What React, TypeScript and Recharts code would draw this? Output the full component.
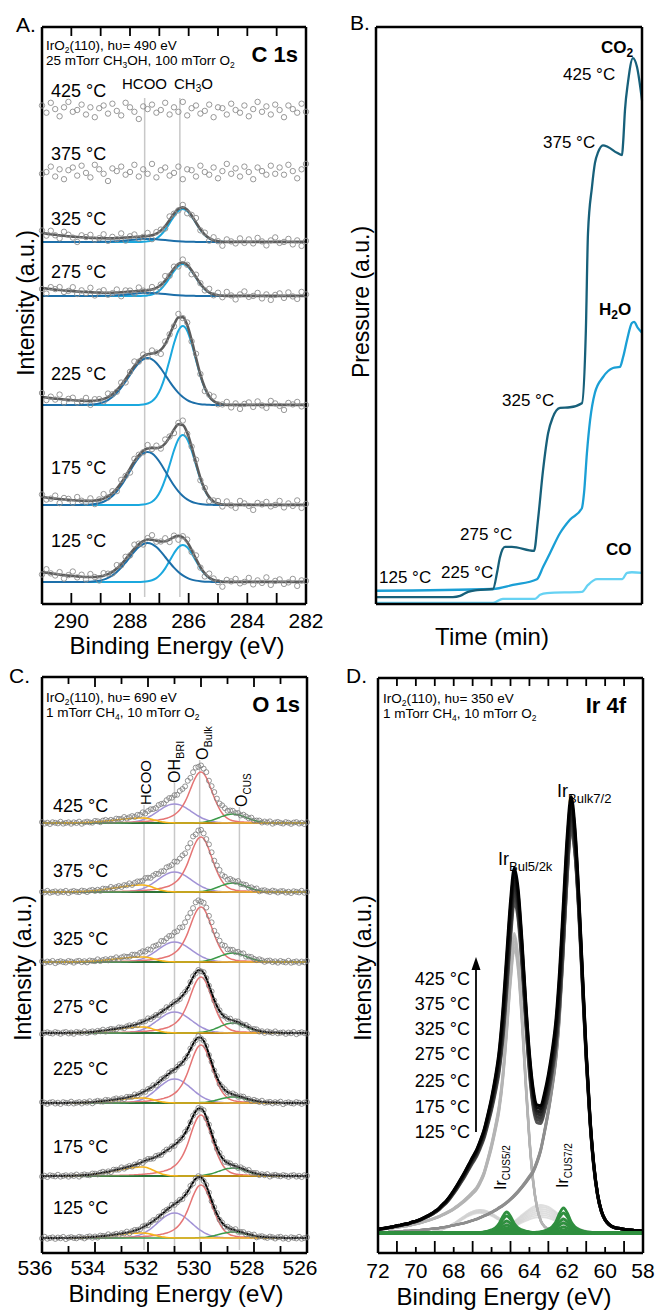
import React from 'react';
import { LineChart, Line, XAxis, YAxis, ReferenceLine } from 'recharts';

const FONT = '"Liberation Sans", Arial, Helvetica, sans-serif';
const AXIS = { stroke: '#000', strokeWidth: 2.5 };

// ---------- A. C 1s ----------
const A_ENERGY = [
  291, 290.85, 290.7, 290.55, 290.4, 290.25, 290.1, 289.95, 289.8, 289.65,
  289.5, 289.35, 289.2, 289.05, 288.9, 288.75, 288.6, 288.45, 288.3, 288.15,
  288, 287.85, 287.7, 287.55, 287.4, 287.25, 287.1, 286.95, 286.8, 286.65,
  286.5, 286.35, 286.2, 286.05, 285.9, 285.75, 285.6, 285.45, 285.3, 285.15,
  285, 284.85, 284.7, 284.55, 284.4, 284.25, 284.1, 283.95, 283.8, 283.65,
  283.5, 283.35, 283.2, 283.05, 282.9, 282.75, 282.6, 282.45, 282.3, 282.15, 282,
];
const A_TEMPS = ['425 °C', '375 °C', '325 °C', '275 °C', '225 °C', '175 °C', '125 °C'];
const A_OFFSET = [494, 432, 362, 308, 199, 99, 22];
const A_HCOO_AMP = [0, 0, 3, 3, 47, 53, 39];
const A_CH3O_AMP = [0, 0, 33, 32, 79, 70, 37];
const A_BG_AMP = [0, 0, 9, 8, 8, 8, 10];
const A_NOISE_AMP = [9, 9, 5, 5, 5, 5, 5];
const A_FITTED = [false, false, true, true, true, true, true];
const A_HCOO_CENTER = 287.4;
const A_CH3O_CENTER = 286.2;
const A_HCOO_PROFILE = [1, 0.973, 0.895, 0.779, 0.641, 0.5, 0.368, 0.257, 0.169, 0.106, 0.062, 0.035, 0.018, 0.009, 0.004, 0.002];
const A_CH3O_PROFILE = [1, 0.94, 0.779, 0.571, 0.369, 0.211, 0.106, 0.047, 0.019, 0.006];
const A_BG_PROFILE = [
  1.0, 0.93, 0.86, 0.8, 0.74, 0.69, 0.64, 0.6, 0.56, 0.52,
  0.49, 0.46, 0.43, 0.41, 0.39, 0.37, 0.35, 0.34, 0.33, 0.32,
  0.31, 0.3, 0.29, 0.28, 0.27, 0.26, 0.25, 0.23, 0.21, 0.19,
  0.17, 0.15, 0.12, 0.1, 0.08, 0.06, 0.05, 0.04, 0.03, 0.02,
  0.02, 0.01, 0.01, 0.01, 0.01, 0.01, 0.01, 0.01, 0.01, 0.01,
  0.01, 0.01, 0.01, 0.01, 0.01, 0.01, 0.01, 0.01, 0.01, 0.01, 0.01,
];
const A_NOISE = [
  0.5, -0.3, 0.8, 0.1, -0.7, 0.3, 0.9, -0.2, 0.0, 0.6,
  -0.5, 0.3, -0.8, 0.2, 0.5, -0.4, 0.7, -0.1, -0.6, 0.8,
  0.3, -0.2, -1.0, 0.4, 0.1, 0.6, -0.3, 0.0, 0.8, -0.5,
  0.3, -0.2, 0.9, -0.6, 0.2, 0.5, -0.4, -0.1, 0.6, -0.8,
  0.3, 0.2, -0.5, 0.7, 0.0, -0.3, 0.5, -0.7, 0.1, 0.9,
  -0.2, 0.4, -0.5, 0.6, 0.0, -0.8, 0.5, 0.1, -0.3, 0.7, -0.2,
];
const A_MARKERS = [287.5, 286.3];
const A_TICKS = [282, 283, 284, 285, 286, 287, 288, 289, 290];
const A_LABELS = [282, 284, 286, 288, 290];

// ---------- B. gas phase ----------
const CO2_TIME = [0, 28.9, 31.6, 34.6, 38.0, 44.0, 45.5, 46.6, 48.5, 51.1, 59.4, 60.9, 62.8, 64.7, 66.5, 69.2, 72.9, 77.4, 78.9, 79.7, 81.2, 82.3, 83.5, 85.3, 87.2, 90.6, 92.5, 92.9, 93.6, 94.7, 96.6, 98.1, 100];
const CO2_P = [1.2, 1.2, 1.4, 2.1, 2.4, 2.6, 5.4, 8.1, 9.9, 9.9, 9.2, 14.6, 23.2, 29.6, 32.4, 34.0, 34.1, 34.8, 47.5, 64.3, 72.3, 76.4, 78.3, 79.5, 79.2, 78.2, 77.8, 79.9, 85.6, 90.3, 94.6, 93.1, 87.3];
const H2O_TIME = [0, 44.0, 51.5, 60.5, 62.8, 65.4, 69.2, 72.9, 77.4, 78.2, 79.3, 80.5, 82.3, 85.3, 89.1, 91.7, 92.9, 94.4, 96.2, 97.0, 98.5, 100];
const H2O_P = [2.3, 2.6, 3.3, 4.3, 6.4, 8.8, 12.3, 14.6, 16.6, 19.2, 26.2, 31.9, 36.6, 39.3, 40.9, 41.1, 42.8, 45.8, 48.7, 48.9, 47.8, 47.0];
const CO_TIME = [0, 44.0, 47.7, 59.8, 61.7, 64.3, 77.4, 79.7, 83.1, 92.5, 94.4, 96.2, 100];
const CO_P = [0.2, 0.2, 0.9, 0.9, 1.6, 1.9, 2.1, 3.3, 4.3, 4.3, 5.4, 5.5, 5.4];

// ---------- C. O 1s ----------
const C_ENERGY = [
  536, 535.9, 535.8, 535.7, 535.6, 535.5, 535.4, 535.3, 535.2, 535.1,
  535, 534.9, 534.8, 534.7, 534.6, 534.5, 534.4, 534.3, 534.2, 534.1,
  534, 533.9, 533.8, 533.7, 533.6, 533.5, 533.4, 533.3, 533.2, 533.1,
  533, 532.9, 532.8, 532.7, 532.6, 532.5, 532.4, 532.3, 532.2, 532.1,
  532, 531.9, 531.8, 531.7, 531.6, 531.5, 531.4, 531.3, 531.2, 531.1,
  531, 530.9, 530.8, 530.7, 530.6, 530.5, 530.4, 530.3, 530.2, 530.1,
  530, 529.9, 529.8, 529.7, 529.6, 529.5, 529.4, 529.3, 529.2, 529.1,
  529, 528.9, 528.8, 528.7, 528.6, 528.5, 528.4, 528.3, 528.2, 528.1,
  528, 527.9, 527.8, 527.7, 527.6, 527.5, 527.4, 527.3, 527.2, 527.1,
  527, 526.9, 526.8, 526.7, 526.6, 526.5, 526.4, 526.3, 526.2, 526.1,
  526,
];
const C_TEMPS = ['425 °C', '375 °C', '325 °C', '275 °C', '225 °C', '175 °C', '125 °C'];
const C_OFFSET = [430, 361, 291, 220, 150, 77, 15];
const C_BULK_AMP = [51, 55, 55, 56, 58, 61, 53];
const C_OH_AMP = [19, 20, 20, 21, 24, 21, 25];
const C_CUS_AMP = [9, 9, 9, 10, 6, 8, 6];
const C_HCOO_AMP = [5, 7, 5, 6, 5, 9, 5];
const C_FITTED = [false, false, false, true, true, true, true];
const C_SHOW_OH = [true, true, true, true, true, false, true];
const C_BULK_CENTER = 530;
const C_OH_CENTER = 531;
const C_CUS_CENTER = 528.8;
const C_HCOO_CENTER = 532.2;
const C_BULK_LEFT = [1, 0.975, 0.9, 0.79, 0.66, 0.53, 0.42, 0.33, 0.26, 0.205, 0.165, 0.135, 0.11, 0.095, 0.08, 0.07, 0.06, 0.052, 0.045, 0.04, 0.035, 0.031, 0.027, 0.024, 0.021, 0.019, 0.017, 0.015, 0.013, 0.012, 0.011, 0.01, 0.009, 0.008, 0.007, 0.006, 0.005, 0.005, 0.004, 0.004, 0.003];
const C_BULK_RIGHT = [1, 0.971, 0.888, 0.77, 0.636, 0.5, 0.377, 0.274, 0.192, 0.132, 0.09, 0.062, 0.045, 0.033, 0.026, 0.02, 0.018, 0.016, 0.014, 0.013, 0.012, 0.011, 0.01, 0.009, 0.009, 0.008, 0.007, 0.007, 0.006, 0.006, 0.005];
const C_OH_PROFILE = [1, 0.988, 0.952, 0.895, 0.821, 0.735, 0.641, 0.547, 0.454, 0.368, 0.291, 0.225, 0.169, 0.124, 0.089, 0.062, 0.043, 0.028, 0.018, 0.012, 0.007, 0.004, 0.003, 0.001];
const C_CUS_PROFILE = [1, 0.981, 0.926, 0.841, 0.735, 0.618, 0.5, 0.39, 0.292, 0.211, 0.146, 0.098, 0.063, 0.039, 0.023, 0.013, 0.007, 0.004, 0.002];
const C_HCOO_LEFT = [1, 0.995, 0.981, 0.958, 0.926, 0.887, 0.841, 0.79, 0.735, 0.677, 0.618, 0.559, 0.5, 0.443, 0.39, 0.339, 0.292, 0.249, 0.211, 0.176, 0.146, 0.12, 0.098, 0.079, 0.063, 0.05, 0.039, 0.03, 0.023, 0.017, 0.013, 0.01, 0.007, 0.005, 0.003];
const C_HCOO_RIGHT = [1, 0.973, 0.895, 0.779, 0.642, 0.5, 0.369, 0.257, 0.17, 0.106, 0.063, 0.035, 0.018, 0.009, 0.004];
const C_NOISE = [0.6, -0.4, 0.2, -0.7, 0.5, 0.1, -0.3, 0.8, -0.5, 0.0, 0.4, -0.6, 0.3, -0.2, 0.7, -0.8, 0.1, 0.5, -0.1, -0.4, 0.6, 0.2, -0.6, 0.3];
const C_MARKERS = [532.15, 531.0, 530.05, 528.55];
const C_MARKER_TOPS = [448, 470, 493, 446];
const C_TICKS = [526, 527, 528, 529, 530, 531, 532, 533, 534, 535, 536];
const C_LABELS = [526, 528, 530, 532, 534, 536];

// ---------- D. Ir 4f ----------
const D_ENERGY = [
  72, 71.8, 71.6, 71.4, 71.2, 71, 70.8, 70.6, 70.4, 70.2,
  70, 69.8, 69.6, 69.4, 69.2, 69, 68.8, 68.6, 68.4, 68.2,
  68, 67.8, 67.6, 67.4, 67.2, 67, 66.8, 66.6, 66.4, 66.2,
  66, 65.8, 65.6, 65.4, 65.2, 65, 64.8, 64.6, 64.4, 64.2,
  64, 63.8, 63.6, 63.4, 63.2, 63, 62.8, 62.6, 62.4, 62.2,
  62, 61.8, 61.6, 61.4, 61.2, 61, 60.8, 60.6, 60.4, 60.2,
  60, 59.8, 59.6, 59.4, 59.2, 59, 58.8, 58.6, 58.4, 58.2,
  58,
];
const D_TEMPS = ['425 °C', '375 °C', '325 °C', '275 °C', '225 °C', '175 °C', '125 °C'];
const D_BASE = 20;
const D_B72_AMP = [415, 412, 409, 406, 403, 400, 397];
const D_B52_AMP = [300, 297, 294, 291, 288, 285, 282];
const D_SAT1_AMP = [23, 23, 22, 22, 21, 21, 20];
const D_SAT2_AMP = [28, 26, 24, 22, 20, 18, 16];
const D_CUS72_AMP = [25, 20, 14, 10, 6, 3, 1];
const D_CUS52_AMP = [21, 17, 12, 8, 5, 3, 1];
const D_B72_CENTER = 61.8;
const D_B52_CENTER = 64.8;
const D_SAT1_CENTER = 66.6;
const D_SAT2_CENTER = 63.4;
const D_CUS72_CENTER = 62.2;
const D_CUS52_CENTER = 65.2;
const D_BULK_LEFT = [
  1, 0.88, 0.7, 0.54, 0.43, 0.36, 0.3, 0.25, 0.205, 0.175,
  0.152, 0.138, 0.125, 0.113, 0.102, 0.092, 0.083, 0.075, 0.068, 0.062,
  0.056, 0.051, 0.046, 0.042, 0.038, 0.034, 0.031, 0.028, 0.025, 0.023,
  0.021, 0.019, 0.017, 0.015, 0.014, 0.012, 0.011, 0.01, 0.009, 0.008,
  0.007, 0.006, 0.006, 0.005, 0.005, 0.004, 0.004, 0.003, 0.003, 0.002,
  0.002, 0.001,
];
const D_B72_RIGHT = [1, 0.945, 0.801, 0.614, 0.428, 0.275, 0.164, 0.093, 0.053, 0.032, 0.021, 0.015, 0.012, 0.011, 0.009, 0.008, 0.007, 0.006, 0.006, 0.005];
const D_B52_RIGHT = [1, 0.928, 0.745, 0.522, 0.321, 0.176, 0.088, 0.042, 0.022, 0.014, 0.009, 0.007, 0.006, 0.005, 0.005, 0.004, 0.004, 0.003, 0.003, 0.003];
const D_SAT_PROFILE = [1, 0.982, 0.931, 0.852, 0.753, 0.641, 0.527, 0.419, 0.32, 0.237, 0.169, 0.116, 0.077, 0.05, 0.031, 0.018, 0.011, 0.006, 0.003];
const D_CUS_PROFILE = [1, 0.8, 0.45, 0.25, 0.15, 0.09, 0.05, 0.03, 0.015, 0.008];
const D_ENV_COLORS = ['#000000', '#0e0e0e', '#1c1c1c', '#2a2a2a', '#383838', '#464646', '#545454'];
const D_TICKS = [58, 59, 60, 61, 62, 63, 64, 65, 66, 67, 68, 69, 70, 71, 72];
const D_LABELS = [58, 60, 62, 64, 66, 68, 70, 72];

// reads a peak profile table at grid index i, left = higher binding energy side
function profileAt(grid: number[], i: number, center: number, left: number[], right: number[] = left) {
  const k = i - grid.indexOf(center);
  const table = k < 0 ? left : right;
  const j = Math.abs(k);
  return j < table.length ? table[j] : 0;
}

const aRows = A_ENERGY.map((e, i) => {
  const row: Record<string, number> = { e };
  A_OFFSET.forEach((off, s) => {
    const hc = A_HCOO_AMP[s] * profileAt(A_ENERGY, i, A_HCOO_CENTER, A_HCOO_PROFILE);
    const ch = A_CH3O_AMP[s] * profileAt(A_ENERGY, i, A_CH3O_CENTER, A_CH3O_PROFILE);
    const env = hc + ch + A_BG_AMP[s] * A_BG_PROFILE[i];
    row[`sc${s}`] = off + env + A_NOISE[(i + 7 * s) % A_NOISE.length] * A_NOISE_AMP[s];
    row[`hc${s}`] = off + hc;
    row[`ch${s}`] = off + ch;
    row[`env${s}`] = off + env;
  });
  return row;
});

const cRows = C_ENERGY.map((e, i) => {
  const row: Record<string, number> = { e };
  C_OFFSET.forEach((off, s) => {
    const bulk = C_BULK_AMP[s] * profileAt(C_ENERGY, i, C_BULK_CENTER, C_BULK_LEFT, C_BULK_RIGHT);
    const oh = C_OH_AMP[s] * profileAt(C_ENERGY, i, C_OH_CENTER, C_OH_PROFILE);
    const cus = C_CUS_AMP[s] * profileAt(C_ENERGY, i, C_CUS_CENTER, C_CUS_PROFILE);
    const hcoo = C_HCOO_AMP[s] * profileAt(C_ENERGY, i, C_HCOO_CENTER, C_HCOO_LEFT, C_HCOO_RIGHT);
    const env = bulk + oh + cus + hcoo;
    row[`cr${s}`] = off + bulk;
    row[`cp${s}`] = off + oh;
    row[`cg${s}`] = off + cus;
    row[`co${s}`] = off + hcoo;
    row[`ce${s}`] = off + env;
    row[`cs${s}`] = off + env + C_NOISE[(i + 5 * s) % C_NOISE.length] * 1.5;
  });
  return row;
});

const dRows = D_ENERGY.map((e, i) => {
  const row: Record<string, number> = { e };
  D_B72_AMP.forEach((_, s) => {
    const b72 = D_B72_AMP[s] * profileAt(D_ENERGY, i, D_B72_CENTER, D_BULK_LEFT, D_B72_RIGHT);
    const b52 = D_B52_AMP[s] * profileAt(D_ENERGY, i, D_B52_CENTER, D_BULK_LEFT, D_B52_RIGHT);
    const s1 = D_SAT1_AMP[s] * profileAt(D_ENERGY, i, D_SAT1_CENTER, D_SAT_PROFILE);
    const s2 = D_SAT2_AMP[s] * profileAt(D_ENERGY, i, D_SAT2_CENTER, D_SAT_PROFILE);
    const c72 = D_CUS72_AMP[s] * profileAt(D_ENERGY, i, D_CUS72_CENTER, D_CUS_PROFILE);
    const c52 = D_CUS52_AMP[s] * profileAt(D_ENERGY, i, D_CUS52_CENTER, D_CUS_PROFILE);
    row[`b72_${s}`] = D_BASE + b72;
    row[`b52_${s}`] = D_BASE + b52;
    row[`s1_${s}`] = D_BASE + s1;
    row[`s2_${s}`] = D_BASE + s2;
    row[`c72_${s}`] = D_BASE + c72;
    row[`c52_${s}`] = D_BASE + c52;
    row[`env_${s}`] = D_BASE + b72 + b52 + s1 + s2 + c72 + c52;
  });
  return row;
});

const co2Data = CO2_TIME.map((t, i) => ({ t, p: CO2_P[i] }));
const h2oData = H2O_TIME.map((t, i) => ({ t, p: H2O_P[i] }));
const coData = CO_TIME.map((t, i) => ({ t, p: CO_P[i] }));

const ZERO = { top: 0, right: 0, bottom: 0, left: 0 };

// inward ticks; labels only on the listed values
function tickRenderer(side: 'top' | 'bottom', len: (v: number) => number, labels: number[] = [], fontSize = 22, dy = 26, dx = 0) {
  return (props: any) => {
    const { x, y, payload } = props;
    const v = payload.value;
    const l = len(v);
    return (
      <g>
        <line x1={x} x2={x} y1={y} y2={side === 'bottom' ? y - l : y + l} stroke="#000" strokeWidth={1.8} />
        {labels.includes(v) && (
          <text x={x + dx} y={y + dy} textAnchor="middle" fontSize={fontSize} fill="#000">{v}</text>
        )}
      </g>
    );
  };
}

function Sub({ children, size = 9, shift = 3 }: { children: React.ReactNode; size?: number; shift?: number }) {
  return <tspan dy={shift} fontSize={size}>{children}</tspan>;
}

const PanelA = () => (
  <LineChart width={330} height={650} data={aRows} margin={ZERO}>
    <XAxis dataKey="e" type="number" domain={[282, 291]} reversed ticks={A_TICKS} interval={0} height={46}
      tickSize={0} tickMargin={0} tickLine={false} axisLine={AXIS}
      tick={tickRenderer('bottom', () => 11, A_LABELS, 21, 24)} />
    <XAxis xAxisId="top" orientation="top" dataKey="e" type="number" domain={[282, 291]} reversed ticks={A_TICKS}
      interval={0} height={27} tickSize={0} tickMargin={0} tickLine={false} axisLine={AXIS}
      tick={tickRenderer('top', () => 9)} />
    <YAxis type="number" domain={[0, 577]} width={42} tick={false} tickLine={false} axisLine={AXIS} />
    <YAxis yAxisId="r" orientation="right" type="number" domain={[0, 577]} width={24} tick={false} tickLine={false} axisLine={AXIS} />
    {A_MARKERS.map((m) => (
      <ReferenceLine key={`am${m}`} segment={[{ x: m, y: 506 }, { x: m, y: 7 }]} stroke="#c8c8c8" strokeWidth={1.5} />
    ))}
    {A_OFFSET.map((_, s) => (
      <Line key={`asc${s}`} dataKey={`sc${s}`} stroke="none" isAnimationActive={false} activeDot={false}
        dot={{ r: 2.7, stroke: '#8c8c8c', strokeWidth: 0.9, fill: 'none' }} />
    ))}
    {A_OFFSET.map((_, s) => A_FITTED[s] && (
      <Line key={`ach${s}`} dataKey={`ch${s}`} type="monotone" stroke="#1ba8de" strokeWidth={2} dot={false} isAnimationActive={false} />
    ))}
    {A_OFFSET.map((_, s) => A_FITTED[s] && (
      <Line key={`ahc${s}`} dataKey={`hc${s}`} type="monotone" stroke="#1d6fa9" strokeWidth={2} dot={false} isAnimationActive={false} />
    ))}
    {A_OFFSET.map((_, s) => A_FITTED[s] && (
      <Line key={`aenv${s}`} dataKey={`env${s}`} type="monotone" stroke="#5c5c5c" strokeWidth={2.6} dot={false} isAnimationActive={false} />
    ))}
  </LineChart>
);

const PanelB = () => (
  <LineChart width={325} height={650} margin={ZERO}>
    <XAxis dataKey="t" type="number" domain={[0, 100]} height={46} tick={false} tickLine={false} axisLine={AXIS} />
    <XAxis xAxisId="top" orientation="top" dataKey="t" type="number" domain={[0, 100]} height={27} tick={false} tickLine={false} axisLine={AXIS} />
    <YAxis type="number" domain={[0, 100]} width={46} tick={false} tickLine={false} axisLine={AXIS} />
    <YAxis yAxisId="r" orientation="right" type="number" domain={[0, 100]} width={13} tick={false} tickLine={false} axisLine={AXIS} />
    <Line data={coData} dataKey="p" type="monotone" stroke="#66d2f3" strokeWidth={2.3} dot={false} isAnimationActive={false} />
    <Line data={h2oData} dataKey="p" type="monotone" stroke="#1a9fd5" strokeWidth={2.3} dot={false} isAnimationActive={false} />
    <Line data={co2Data} dataKey="p" type="monotone" stroke="#17607a" strokeWidth={2.3} dot={false} isAnimationActive={false} />
  </LineChart>
);

const C_COLORS = { oh: '#a293d6', bulk: '#e57575', cus: '#3c9a49', hcoo: '#f6b41a' };

const PanelC = () => (
  <LineChart width={330} height={660} data={cRows} margin={ZERO}>
    <XAxis dataKey="e" type="number" domain={[526, 536]} reversed ticks={C_TICKS} interval={0} height={57}
      tickSize={0} tickMargin={0} tickLine={false} axisLine={AXIS}
      tick={tickRenderer('bottom', (v) => (v % 2 === 0 ? 11 : 7), C_LABELS, 21, 22, -7)} />
    <XAxis xAxisId="top" orientation="top" dataKey="e" type="number" domain={[526, 536]} reversed ticks={C_TICKS}
      interval={0} height={27} tickSize={0} tickMargin={0} tickLine={false} axisLine={AXIS}
      tick={tickRenderer('top', (v) => (v % 2 === 0 ? 10 : 7))} />
    <YAxis type="number" domain={[0, 576]} width={42} tick={false} tickLine={false} axisLine={AXIS} />
    <YAxis yAxisId="r" orientation="right" type="number" domain={[0, 576]} width={23} tick={false} tickLine={false} axisLine={AXIS} />
    {C_MARKERS.map((m, k) => (
      <ReferenceLine key={`cm${k}`} segment={[{ x: m, y: C_MARKER_TOPS[k] }, { x: m, y: 3 }]} stroke="#c8c8c8" strokeWidth={1.5} />
    ))}
    {C_OFFSET.map((off, s) => s > 0 && (
      <ReferenceLine key={`csep${s}`} y={C_OFFSET[s - 1]} stroke="#000" strokeWidth={2.2} />
    ))}
    {C_OFFSET.map((_, s) => C_SHOW_OH[s] && (
      <Line key={`cp${s}`} dataKey={`cp${s}`} type="monotone" stroke={C_COLORS.oh} strokeWidth={1.5} dot={false} isAnimationActive={false} />
    ))}
    {C_OFFSET.map((_, s) => (
      <Line key={`cr${s}`} dataKey={`cr${s}`} type="monotone" stroke={C_COLORS.bulk} strokeWidth={1.5} dot={false} isAnimationActive={false} />
    ))}
    {C_OFFSET.map((_, s) => (
      <Line key={`cg${s}`} dataKey={`cg${s}`} type="monotone" stroke={C_COLORS.cus} strokeWidth={1.5} dot={false} isAnimationActive={false} />
    ))}
    {C_OFFSET.map((_, s) => (
      <Line key={`co${s}`} dataKey={`co${s}`} type="monotone" stroke={C_COLORS.hcoo} strokeWidth={1.6} dot={false} isAnimationActive={false} />
    ))}
    {C_OFFSET.map((_, s) => (
      <Line key={`cs${s}`} dataKey={`cs${s}`} stroke="none" isAnimationActive={false} activeDot={false}
        dot={{ r: 2.5, stroke: '#7a7a7a', strokeWidth: 0.8, fill: 'none' }} />
    ))}
    {C_OFFSET.map((_, s) => C_FITTED[s] && (
      <Line key={`ce${s}`} dataKey={`ce${s}`} type="monotone" stroke="#000" strokeWidth={2} dot={false} isAnimationActive={false} />
    ))}
  </LineChart>
);

const ORDER = [6, 5, 4, 3, 2, 1, 0];

const PanelD = () => (
  <LineChart width={325} height={660} data={dRows} margin={ZERO}>
    <XAxis dataKey="e" type="number" domain={[58, 72]} reversed ticks={D_TICKS} interval={0} height={57}
      tickSize={0} tickMargin={0} tickLine={false} axisLine={AXIS}
      tick={tickRenderer('bottom', (v) => (v % 2 === 1 ? 12 : 6), D_LABELS, 21, 25)} />
    <XAxis xAxisId="top" orientation="top" dataKey="e" type="number" domain={[58, 72]} reversed ticks={D_TICKS}
      interval={0} height={28} tickSize={0} tickMargin={0} tickLine={false} axisLine={AXIS}
      tick={tickRenderer('top', () => 8)} />
    <YAxis type="number" domain={[0, 575]} width={48} tick={false} tickLine={false} axisLine={AXIS} />
    <YAxis yAxisId="r" orientation="right" type="number" domain={[0, 575]} width={12} tick={false} tickLine={false} axisLine={AXIS} />
    {ORDER.map((s) => (
      <Line key={`s1${s}`} dataKey={`s1_${s}`} type="monotone" stroke="#d2d2d2" strokeOpacity={0.7} strokeWidth={1.8} dot={false} isAnimationActive={false} />
    ))}
    {ORDER.map((s) => (
      <Line key={`s2${s}`} dataKey={`s2_${s}`} type="monotone" stroke="#d2d2d2" strokeOpacity={0.7} strokeWidth={1.8} dot={false} isAnimationActive={false} />
    ))}
    {ORDER.map((s) => (
      <Line key={`b52${s}`} dataKey={`b52_${s}`} type="monotone" stroke="#b4b4b4" strokeOpacity={0.85} strokeWidth={2.2} dot={false} isAnimationActive={false} />
    ))}
    {ORDER.map((s) => (
      <Line key={`b72${s}`} dataKey={`b72_${s}`} type="monotone" stroke="#8e8e8e" strokeOpacity={0.85} strokeWidth={2.2} dot={false} isAnimationActive={false} />
    ))}
    {ORDER.map((s) => (
      <Line key={`env${s}`} dataKey={`env_${s}`} type="monotone" stroke={D_ENV_COLORS[s]} strokeWidth={3} dot={false} isAnimationActive={false} />
    ))}
    {ORDER.map((s) => (
      <Line key={`c52${s}`} dataKey={`c52_${s}`} type="monotone" stroke="#2f8f3f" strokeWidth={2.8} dot={false} isAnimationActive={false} />
    ))}
    {ORDER.map((s) => (
      <Line key={`c72${s}`} dataKey={`c72_${s}`} type="monotone" stroke="#2f8f3f" strokeWidth={2.8} dot={false} isAnimationActive={false} />
    ))}
  </LineChart>
);

const A_TEMP_Y = [97, 160, 225, 278, 380, 474, 547];
const B_LABELS: [string, number, number][] = [
  ['425 °C', 563, 80], ['375 °C', 543, 148], ['325 °C', 502, 406], ['275 °C', 460, 540], ['225 °C', 441, 578], ['125 °C', 379, 583],
];
const C_TEMP_Y = [812, 877, 945, 1013, 1075, 1153, 1214];
const D_TEMP_Y = [985, 1010, 1035, 1060, 1087, 1113, 1138];

const Annotations = () => (
  <svg width={655} height={1310} style={{ position: 'absolute', left: 0, top: 0, pointerEvents: 'none' }} fontFamily={FONT} fill="#000">
    {/* A */}
    <text x={16} y={32} fontSize={21}>A.</text>
    <text x={46} y={50} fontSize={13.5}>IrO<Sub size={8.5} shift={2.5}>2</Sub><tspan dy={-2.5}>(110), hυ= 490 eV</tspan></text>
    <text x={46} y={65} fontSize={13.5}>25 mTorr CH<Sub size={8.5} shift={2.5}>3</Sub><tspan dy={-2.5}>OH, 100 mTorr O</tspan><Sub size={8.5} shift={2.5}>2</Sub></text>
    <text x={298} y={62} fontSize={22} fontWeight="bold" textAnchor="end">C 1s</text>
    <text x={122} y={89} fontSize={15}>HCOO</text>
    <text x={174} y={89} fontSize={15}>CH<Sub size={10}>3</Sub><tspan dy={-3}>O</tspan></text>
    {A_TEMPS.map((t, k) => <text key={`at${k}`} x={51} y={A_TEMP_Y[k]} fontSize={18}>{t}</text>)}
    <text transform="translate(34,303) rotate(-90)" textAnchor="middle" fontSize={23}>Intensity (a.u.)</text>
    <text x={177} y={654} textAnchor="middle" fontSize={24}>Binding Energy (eV)</text>

    {/* B */}
    <text x={350} y={30} fontSize={21}>B.</text>
    <text x={601} y={53} fontSize={17} fontWeight="bold">CO<Sub size={12} shift={4}>2</Sub></text>
    <text x={599} y={315} fontSize={17} fontWeight="bold">H<Sub size={12} shift={4}>2</Sub><tspan dy={-4}>O</tspan></text>
    <text x={606} y={555} fontSize={17} fontWeight="bold">CO</text>
    {B_LABELS.map(([t, x, y], k) => <text key={`bt${k}`} x={x} y={y} fontSize={17}>{t}</text>)}
    <text transform="translate(369,302) rotate(-90)" textAnchor="middle" fontSize={23}>Pressure (a.u.)</text>
    <text x={492} y={645} textAnchor="middle" fontSize={24}>Time (min)</text>

    {/* C */}
    <text x={9} y={683} fontSize={21}>C.</text>
    <text x={46} y={702} fontSize={13.5}>IrO<Sub size={8.5} shift={2.5}>2</Sub><tspan dy={-2.5}>(110), hυ= 690 eV</tspan></text>
    <text x={46} y={717} fontSize={13.5}>1 mTorr CH<Sub size={8.5} shift={2.5}>4</Sub><tspan dy={-2.5}>, 10 mTorr O</tspan><Sub size={8.5} shift={2.5}>2</Sub></text>
    <text x={300} y={712} fontSize={22} fontWeight="bold" textAnchor="end">O 1s</text>
    <text transform="translate(151,805) rotate(-90)" fontSize={15}>HCOO</text>
    <text transform="translate(180,783) rotate(-90)" fontSize={16}>OH<Sub size={11} shift={4}>BRI</Sub></text>
    <text transform="translate(208,760) rotate(-90)" fontSize={16}>O<Sub size={11} shift={4}>Bulk</Sub></text>
    <text transform="translate(247,807) rotate(-90)" fontSize={16}>O<Sub size={10} shift={4}>CUS</Sub></text>
    {C_TEMPS.map((t, k) => <text key={`ct${k}`} x={53} y={C_TEMP_Y[k]} fontSize={18}>{t}</text>)}
    <text transform="translate(31,968) rotate(-90)" textAnchor="middle" fontSize={23}>Intensity (a.u.)</text>
    <text x={176} y={1302} textAnchor="middle" fontSize={24}>Binding Energy (eV)</text>

    {/* D */}
    <text x={346} y={683} fontSize={21}>D.</text>
    <text x={383} y={703} fontSize={13.5}>IrO<Sub size={8.5} shift={2.5}>2</Sub><tspan dy={-2.5}>(110), hυ= 350 eV</tspan></text>
    <text x={383} y={718} fontSize={13.5}>1 mTorr CH<Sub size={8.5} shift={2.5}>4</Sub><tspan dy={-2.5}>, 10 mTorr O</tspan><Sub size={8.5} shift={2.5}>2</Sub></text>
    <text x={626} y={713} fontSize={22} fontWeight="bold" textAnchor="end">Ir 4f</text>
    <text x={557} y={797} fontSize={18}>Ir<Sub size={13} shift={6}>Bulk7/2</Sub></text>
    <text x={498} y={865} fontSize={18}>Ir<Sub size={13} shift={6}>Bul5/2k</Sub></text>
    <text transform="translate(506,1190) rotate(-90)" fontSize={16}>Ir<Sub size={10} shift={4}>CUS5/2</Sub></text>
    <text transform="translate(568,1188) rotate(-90)" fontSize={16}>Ir<Sub size={10} shift={4}>CUS7/2</Sub></text>
    {D_TEMPS.map((t, k) => <text key={`dt${k}`} x={470} y={D_TEMP_Y[k]} fontSize={18} textAnchor="end">{t}</text>)}
    <line x1={476} x2={476} y1={1132} y2={968} stroke="#000" strokeWidth={1.8} />
    <polygon points="476,957 471.5,970 480.5,970" fill="#000" />
    <text transform="translate(371,968) rotate(-90)" textAnchor="middle" fontSize={23}>Intensity (a.u.)</text>
    <text x={504} y={1305} textAnchor="middle" fontSize={24}>Binding Energy (eV)</text>
  </svg>
);

export default function App() {
  return (
    <div style={{ position: 'absolute', left: 0, top: 0, width: 655, height: 1310, background: '#fff', fontFamily: FONT }}>
      <div style={{ position: 'absolute', left: 0, top: 0 }}><PanelA /></div>
      <div style={{ position: 'absolute', left: 330, top: 0 }}><PanelB /></div>
      <div style={{ position: 'absolute', left: 0, top: 650 }}><PanelC /></div>
      <div style={{ position: 'absolute', left: 330, top: 650 }}><PanelD /></div>
      <Annotations />
    </div>
  );
}
